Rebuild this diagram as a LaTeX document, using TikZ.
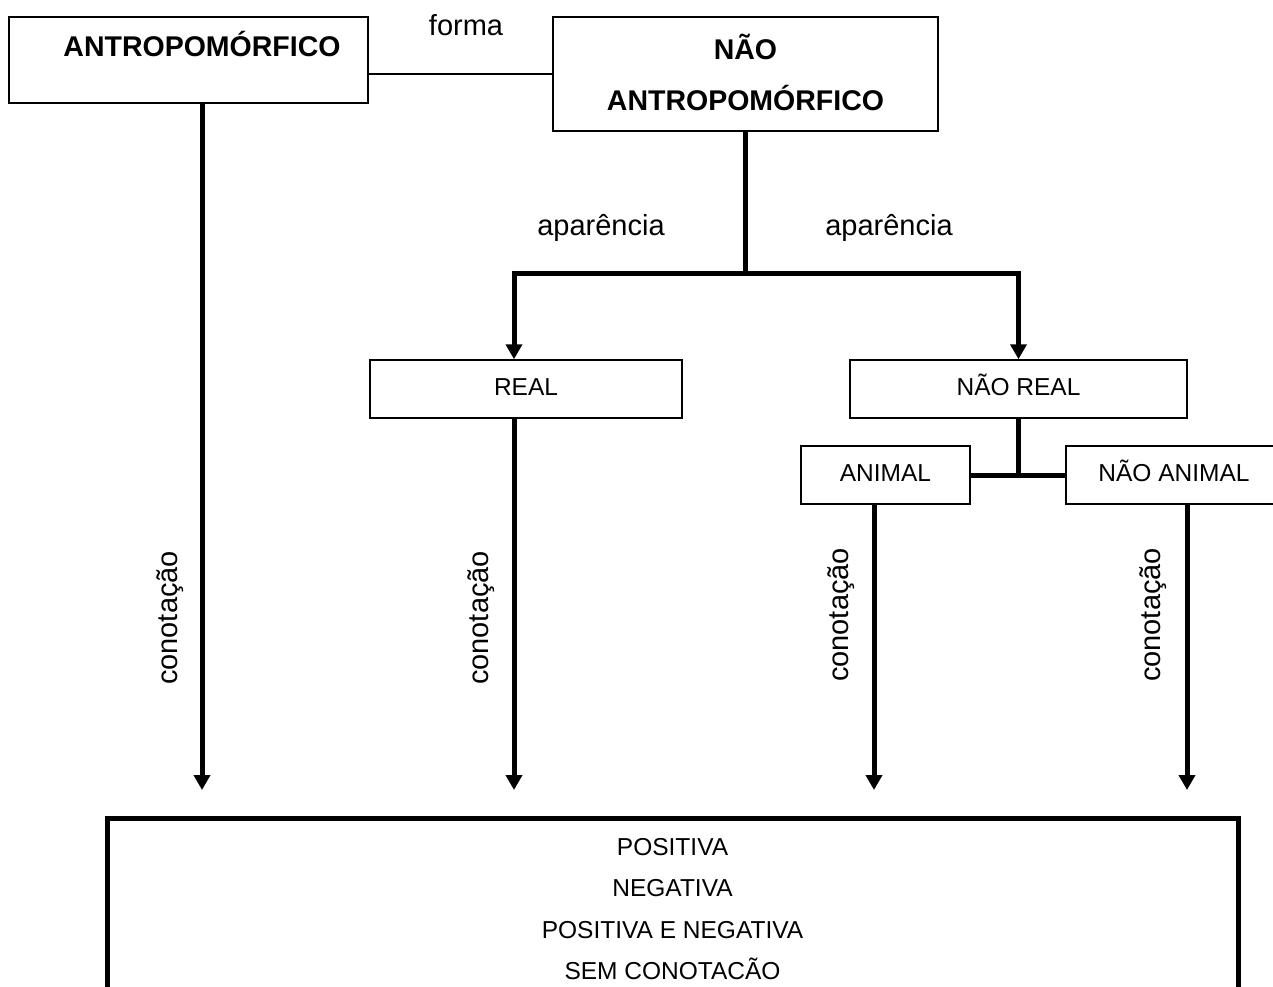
\documentclass[tikz,border=0pt]{standalone}
\usepackage{fontspec}
\setmainfont{Liberation Sans}
\usetikzlibrary{arrows.meta}

\begin{document}
\begin{tikzpicture}[x=1pt, y=-1pt,
          box/.style={draw, line width=1.5pt, minimum height=58pt,
                      text height=18pt, text depth=6pt,
                      font=\fontsize{24.5}{28}\selectfont, inner sep=0pt},
          topbox/.style={draw, line width=1.5pt, align=center,
                         font=\fontsize{28.5}{51}\selectfont\bfseries, inner sep=0pt},
          lbl/.style={font=\fontsize{29}{32}\selectfont, inner sep=0pt},
          result/.style={draw, line width=5pt, align=center,
                         minimum width=1131pt, minimum height=182pt,
                         font=\fontsize{24.5}{41.3}\selectfont, inner sep=0pt},
          link/.style={line width=1.5pt},
          trunk/.style={line width=5pt},
          arr/.style={-{Triangle[length=15pt,width=16pt]}, line width=5pt}
        ]
          \clip (0,0) rectangle (1273,986);
          \node[topbox, minimum width=359pt, minimum height=86pt,
                text height=21pt, text depth=29pt] (antro) at (188.5,60) {\hspace*{27pt}ANTROPOMÓRFICO};
          \node[topbox, minimum width=385pt, minimum height=114pt,
                text height=72pt, text depth=0pt] (nao) at (745.5,74) {NÃO\\ANTROPOMÓRFICO};
          \node[box, minimum width=312pt] (real) at (526,389) {REAL};
          \node[box, minimum width=337pt] (naoreal) at (1018.5,389) {NÃO REAL};
          \node[box, minimum width=169pt] (animal) at (885.5,475) {ANIMAL};
          \node[box, minimum width=216pt] (naoanimal) at (1174,475) {NÃO ANIMAL};
          \node[result] (conot) at (672.5,909) {POSITIVA\\NEGATIVA\\POSITIVA E NEGATIVA\\SEM CONOTACÃO};
          % arrow tips above the result box
          \coordinate (t1) at (202,790);
          \coordinate (t2) at (514,790);
          \coordinate (t3) at (874,790);
          \coordinate (t4) at (1187,790);
          \coordinate (split) at (745.5,273);
          \draw[link] (antro.east |- nao.west) -- (nao.west);
          \draw[trunk] (nao.south) -- (split);
          \draw[arr] (split) -| (t2 |- real.north);
          \draw[arr] (split) -| (naoreal.north);
          \draw[trunk] (naoreal.south) -- (naoreal.south |- animal.east);
          \draw[trunk] (animal.east) -- (naoanimal.west);
          \draw[arr] (antro.south -| t1) -- (t1);
          \draw[arr] (real.south -| t2) -- (t2);
          \draw[arr] (animal.south -| t3) -- (t3);
          \draw[arr] (naoanimal.south -| t4) -- (t4);
          \node[lbl] (lforma) at (466,25) {forma};
          \node[lbl] (lap1) at (601,228) {aparência};
          \node[lbl] (lap2) at (889,228) {aparência};
          \node[lbl, rotate=90] (lc1) at (170,618) {conotação};
          \node[lbl, rotate=90] (lc2) at (481,618) {conotação};
          \node[lbl, rotate=90] (lc3) at (841,615) {conotação};
          \node[lbl, rotate=90] (lc4) at (1153,615) {conotação};
        \end{tikzpicture}
\end{document}
